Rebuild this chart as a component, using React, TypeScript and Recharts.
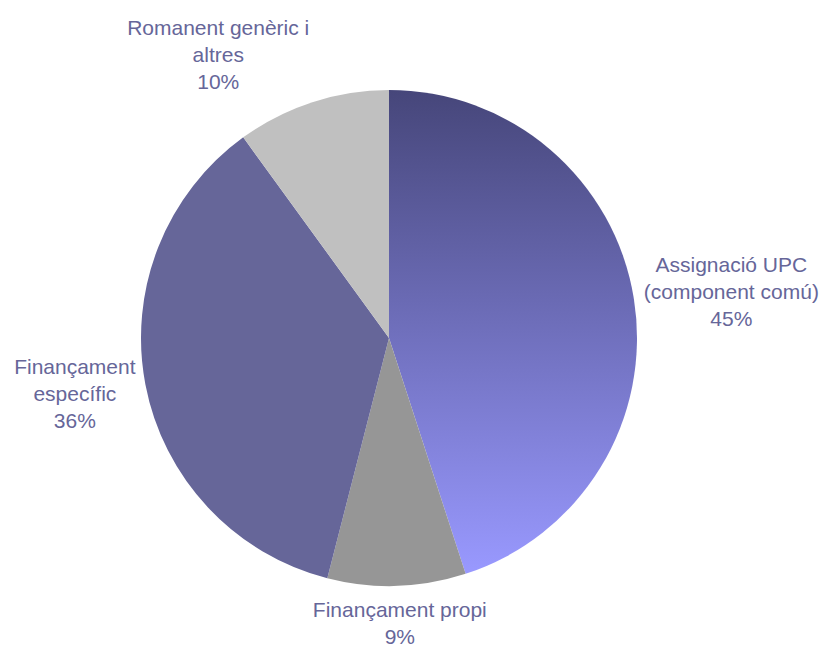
import React from 'react';
import { PieChart, Pie, Cell } from 'recharts';

const labels = [
  ['Assignació UPC', '(component comú)'],
  ['Finançament propi'],
  ['Finançament', 'específic'],
  ['Romanent genèric i', 'altres'],
];
const values = [45, 9, 36, 10];
const colors = ['url(#upcGrad)', '#969696', '#666699', '#C0C0C0'];

const data = values.map((value, i) => ({ name: labels[i].join(' '), value, lines: labels[i] }));

const FONT = '21px "Liberation Sans", Arial, sans-serif';
const LINE_H = 27;
const RADIAN = Math.PI / 180;

let ctx: CanvasRenderingContext2D | null = null;
const measure = (s: string) => {
  if (!ctx) ctx = document.createElement('canvas').getContext('2d');
  if (!ctx) return s.length * 10;
  ctx.font = FONT;
  return ctx.measureText(s).width;
};

const renderLabel = (props: any) => {
  const { cx, cy, outerRadius, midAngle, index, percent } = props;
  const lines = [...labels[index], `${Math.round(percent * 100)}%`];
  const w = Math.max(...lines.map(measure));
  const h = lines.length * LINE_H;
  const dx = Math.cos(-midAngle * RADIAN);
  const dy = Math.sin(-midAngle * RADIAN);
  const r = outerRadius + 10;
  const px = cx + r * dx;
  const py = cy + r * dy;
  const offX = Math.abs(dx) > 0.1 ? Math.sign(dx) * w / 2 : dx * w / 2;
  const offY = dy * h / 2;
  const lx = px + offX;
  const ly = py + offY - h / 2;
  return (
    <text
      x={lx}
      y={ly}
      textAnchor="middle"
      fill="#666699"
      style={{ font: FONT }}
    >
      {lines.map((l, i) => (
        <tspan key={i} x={lx} y={ly + LINE_H * i + LINE_H / 2} dominantBaseline="central">
          {l}
        </tspan>
      ))}
    </text>
  );
};

export default function App() {
  return (
    <div style={{ position: 'absolute', left: 0, top: 0, width: 825, height: 650, background: '#fff' }}>
      <PieChart width={825} height={650} margin={{ top: 0, right: 0, bottom: 0, left: 0 }}>
        <defs>
          <linearGradient id="upcGrad" x1="0" y1="0" x2="0" y2="1">
            <stop offset="0%" stopColor="#46467A" />
            <stop offset="100%" stopColor="#9999FF" />
          </linearGradient>
        </defs>
        <Pie
          data={data}
          dataKey="value"
          cx={389}
          cy={338}
          outerRadius={248}
          startAngle={90}
          endAngle={-270}
          stroke="none"
          label={renderLabel}
          labelLine={false}
          isAnimationActive={false}
        >
          {data.map((d, i) => (
            <Cell key={d.name} fill={colors[i]} />
          ))}
        </Pie>
      </PieChart>
    </div>
  );
}
